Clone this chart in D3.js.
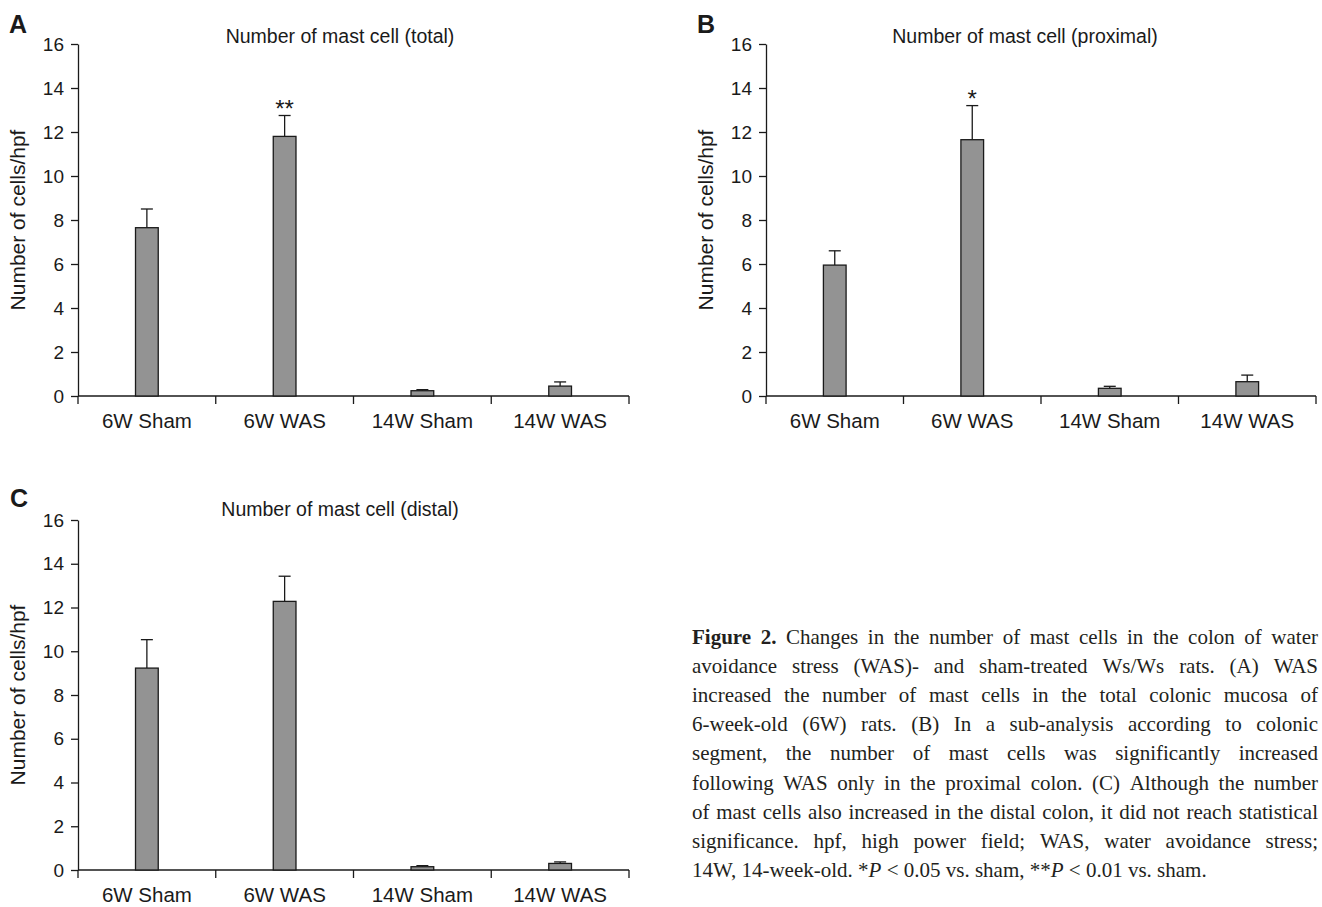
<!DOCTYPE html>
<html>
<head>
<meta charset="utf-8">
<script src="https://cdn.jsdelivr.net/npm/d3@7"></script>
<style>
  html, body { margin: 0; padding: 0; background: #fff; }
  svg { display: block; }
</style>
</head>
<body>
<svg id="chart" width="1322" height="907"></svg>
<script>
// ---------- DATA ----------
const categories = ["6W Sham", "6W WAS", "14W Sham", "14W WAS"];
const yTicks = [0, 2, 4, 6, 8, 10, 12, 14, 16];

const totalMean = [7.65, 11.8, 0.24, 0.45];
const totalErr = [0.85, 0.95, 0.05, 0.19];
const totalSig = ["", "**", "", ""];

const proximalMean = [5.95, 11.65, 0.35, 0.65];
const proximalErr = [0.65, 1.55, 0.09, 0.3];
const proximalSig = ["", "*", "", ""];

const distalMean = [9.23, 12.28, 0.15, 0.3];
const distalErr = [1.3, 1.15, 0.05, 0.07];
const distalSig = ["", "", "", ""];

const panelLetters = ["A", "B", "C"];
const panelTitles = ["Number of mast cell (total)", "Number of mast cell (proximal)", "Number of mast cell (distal)"];
const yLabel = "Number of cells/hpf";

const captionLines = [
  "Figure 2.  Changes in the number of mast cells in the colon of water",
  "avoidance stress (WAS)- and sham-treated Ws/Ws rats. (A) WAS",
  "increased the number of mast cells in the total colonic mucosa of",
  "6-week-old (6W) rats. (B) In a sub-analysis according to colonic",
  "segment, the number of mast cells was significantly increased",
  "following WAS only in the proximal colon. (C) Although the number",
  "of mast cells also increased in the distal colon, it did not reach statistical",
  "significance. hpf, high power field; WAS, water avoidance stress;",
  "14W, 14-week-old. *P < 0.05 vs. sham, **P < 0.01 vs. sham."
];
const captionBoldWords = ["Figure", "2."];

// ---------- LAYOUT ----------
const panels = [
  { mean: totalMean, err: totalErr, sig: totalSig, x0: 78, x1: 629, yTop: 44, yBot: 396, lx: 9, ly: 33, tx: 340, ty: 43, ylx: 25 },
  { mean: proximalMean, err: proximalErr, sig: proximalSig, x0: 766, x1: 1316, yTop: 44, yBot: 396, lx: 697, ly: 33, tx: 1025, ty: 43, ylx: 713 },
  { mean: distalMean, err: distalErr, sig: distalSig, x0: 78, x1: 629, yTop: 520, yBot: 870, lx: 10, ly: 507, tx: 340, ty: 516, ylx: 25 }
];

const svg = d3.select("#chart");
svg.append("rect").attr("width", 1322).attr("height", 907).attr("fill", "#fff");

const sans = "'Liberation Sans', Arial, Helvetica, sans-serif";
const ink = "#1a1a1a";

panels.forEach((p, i) => {
  const g = svg.append("g");
  const x = d3.scaleBand().domain(categories).range([p.x0, p.x1]).padding(0);
  const y = d3.scaleLinear().domain([0, 16]).range([p.yBot, p.yTop]);
  const bw = x.bandwidth() * 0.165;

  // y axis
  const yAxis = d3.axisLeft(y).tickValues(yTicks).tickSize(7).tickSizeOuter(0).tickPadding(7).tickFormat(d3.format("d"));
  const ya = g.append("g").attr("transform", `translate(${p.x0},0)`).call(yAxis);
  ya.select(".domain").attr("stroke", ink).attr("stroke-width", 1.3);
  ya.selectAll(".tick line").attr("stroke", ink).attr("stroke-width", 1.3);
  ya.selectAll(".tick text").attr("font-family", sans).attr("font-size", 19).attr("fill", ink);

  // x axis: baseline with ticks at category boundaries
  const xa = g.append("g");
  xa.append("line").attr("x1", p.x0).attr("x2", p.x1).attr("y1", y(0)).attr("y2", y(0))
    .attr("stroke", ink).attr("stroke-width", 1.3);
  const bounds = categories.map(c => x(c)).concat([x.range()[1]]);
  xa.selectAll("line.tk").data(bounds).enter().append("line").attr("class", "tk")
    .attr("x1", d => d).attr("x2", d => d).attr("y1", y(0)).attr("y2", y(0) + 8)
    .attr("stroke", ink).attr("stroke-width", 1.3);
  xa.selectAll("text").data(categories).enter().append("text")
    .attr("x", d => x(d) + x.bandwidth() / 2).attr("y", y(0) + 32)
    .attr("text-anchor", "middle").attr("font-family", sans).attr("font-size", 20.5).attr("fill", ink)
    .text(d => d);

  // error bars (upper only)
  const data = categories.map((c, k) => ({ c, m: p.mean[k], e: p.err[k], s: p.sig[k] }));
  g.selectAll("line.eb").data(data).enter().append("line").attr("class", "eb")
    .attr("x1", d => x(d.c) + x.bandwidth() / 2).attr("x2", d => x(d.c) + x.bandwidth() / 2)
    .attr("y1", d => y(d.m)).attr("y2", d => y(d.m + d.e))
    .attr("stroke", ink).attr("stroke-width", 1.3);
  g.selectAll("line.cap").data(data).enter().append("line").attr("class", "cap")
    .attr("x1", d => x(d.c) + x.bandwidth() / 2 - 6).attr("x2", d => x(d.c) + x.bandwidth() / 2 + 6)
    .attr("y1", d => y(d.m + d.e)).attr("y2", d => y(d.m + d.e))
    .attr("stroke", ink).attr("stroke-width", 1.3);

  // bars
  g.selectAll("rect.bar").data(data).enter().append("rect").attr("class", "bar")
    .attr("x", d => x(d.c) + x.bandwidth() / 2 - bw / 2).attr("width", bw)
    .attr("y", d => y(d.m)).attr("height", d => y(0) - y(d.m))
    .attr("fill", "#939393").attr("stroke", ink).attr("stroke-width", 1.3);

  // significance stars
  g.selectAll("text.sig").data(data.filter(d => d.s)).enter().append("text").attr("class", "sig")
    .attr("x", d => x(d.c) + x.bandwidth() / 2).attr("y", d => y(d.m + d.e) + 1)
    .attr("text-anchor", "middle").attr("font-family", sans).attr("font-size", 24).attr("fill", ink)
    .text(d => d.s);

  // title
  g.append("text").attr("x", p.tx).attr("y", p.ty).attr("text-anchor", "middle")
    .attr("font-family", sans).attr("font-size", 19.5).attr("fill", ink).text(panelTitles[i]);

  // panel letter
  g.append("text").attr("x", p.lx).attr("y", p.ly).attr("font-family", sans).attr("font-weight", "bold")
    .attr("font-size", 25).attr("fill", ink).text(panelLetters[i]);

  // y label
  g.append("text").attr("transform", `translate(${p.ylx},${(p.yTop + p.yBot) / 2}) rotate(-90)`)
    .attr("text-anchor", "middle").attr("font-family", sans).attr("font-size", 21).attr("fill", ink)
    .text(yLabel);
});

// ---------- CAPTION (justified) ----------
const capLeft = 692, capRight = 1318, capY0 = 644, capLH = 29.1;
const serif = "'Liberation Serif', 'Times New Roman', serif";
const cap = svg.append("g").attr("font-family", serif).attr("font-size", 21).attr("fill", "#231f20");

// natural space width
const probe = cap.append("text").attr("x", -1000).attr("y", -1000);
probe.text("a a"); const w1 = probe.node().getComputedTextLength();
probe.text("aa"); const w2 = probe.node().getComputedTextLength();
const spaceW = w1 - w2;
probe.remove();

captionLines.forEach((line, li) => {
  const words = line.split(/\s+/);
  const t = cap.append("text").attr("y", capY0 + li * capLH);
  const spans = words.map((w, wi) => {
    const bold = li === 0 && wi < 2 && captionBoldWords.includes(w);
    const m = w.match(/^(\*+)P$/);
    const ws = t.append("tspan");
    if (m) {
      ws.append("tspan").text(m[1]);
      ws.append("tspan").attr("font-style", "italic").text("P");
    } else {
      ws.text(w);
    }
    if (bold) ws.attr("font-weight", "bold");
    return ws;
  });
  const widths = spans.map(s => s.node().getComputedTextLength());
  const total = d3.sum(widths);
  const last = li === captionLines.length - 1;
  let gap = last ? spaceW : (capRight - capLeft - total) / (words.length - 1);
  let scale = 1;
  if (!last && gap < spaceW * 0.6) {
    gap = spaceW * 0.6;
    scale = (capRight - capLeft) / (total + gap * (words.length - 1));
  }
  let cx = capLeft;
  spans.forEach((s, k) => {
    s.attr("x", capLeft + (cx - capLeft) * scale);
    if (scale !== 1) s.attr("textLength", widths[k] * scale).attr("lengthAdjust", "spacingAndGlyphs");
    cx += widths[k] + gap;
  });
});
</script>
</body>
</html>
